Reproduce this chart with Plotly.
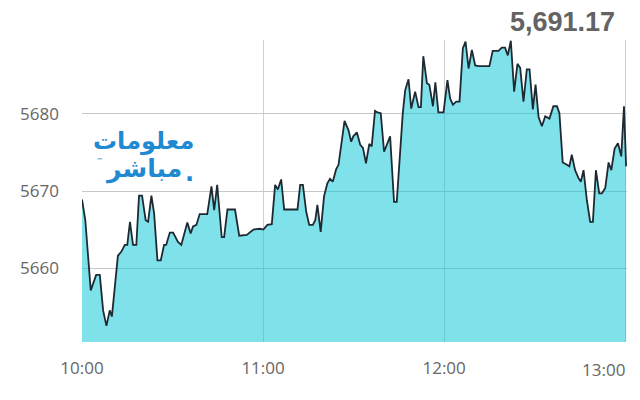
import plotly.graph_objects as go

# minutes after 10:00
minutes = [0, 1.1, 2.9, 4.7, 5.9, 7.0, 8.1, 9.2, 9.9, 11.9, 13.0, 14.2, 15.0, 15.9, 16.9, 18.0,
           18.9, 19.9, 21.1, 21.9, 23.0, 23.9, 25.0, 26.1, 27.2, 27.9, 29.1, 30.2, 31.8, 32.9,
           34.9, 36.0, 36.8, 37.9, 39.0, 41.5, 42.9, 43.8, 44.8, 46.3, 47.1, 48.2, 50.7, 52.1,
           54.6, 56.8, 59.0, 60.1, 61.4, 62.9, 64.0, 64.9, 66.0, 67.0, 71.4, 72.3, 73.2, 74.3,
           75.3, 76.5, 77.3, 78.0, 79.1, 80.2, 81.3, 82.2, 83.1, 84.2, 85.0, 87.0, 88.3, 89.2,
           89.9, 91.1, 92.2, 93.1, 94.1, 95.2, 96.0, 97.1, 97.9, 99.0, 100.1, 102.1, 103.4, 104.3,
           106.3, 107.1, 108.2, 109.1, 110.4, 111.5, 112.3, 113.1, 114.3, 115.1, 116.3, 117.1,
           118.1, 119.8, 121.1, 122.0, 122.9, 124.0, 125.1, 126.2, 127.1, 128.1, 129.2, 130.3,
           131.4, 135.0, 136.1, 138.0, 139.1, 140.2, 141.1, 142.1, 143.2, 144.3, 145.2, 146.3,
           147.4, 148.3, 149.4, 150.3, 151.3, 152.4, 153.5, 154.9, 156.2, 157.4, 158.2, 159.3,
           160.7, 161.5, 162.3, 163.4, 164.5, 165.3, 166.2, 167.3, 168.4, 169.3, 170.3, 171.4,
           172.3, 173.4, 174.5, 175.4, 176.5, 177.6, 178.7, 179.6, 180.3]

values = [5668.9, 5666.2, 5657.1, 5659.1, 5659.1, 5654.5, 5652.5, 5654.5, 5653.7, 5661.6, 5662.1,
          5663.0, 5663.0, 5666.0, 5663.0, 5663.0, 5669.4, 5669.4, 5666.2, 5666.0, 5669.4, 5667.1,
          5661.0, 5661.0, 5663.0, 5663.0, 5664.6, 5664.6, 5663.4, 5663.0, 5665.9, 5664.5, 5665.4,
          5665.6, 5667.0, 5667.0, 5670.6, 5667.5, 5670.8, 5664.0, 5664.0, 5667.6, 5667.6, 5664.2,
          5664.3, 5665.0, 5665.1, 5665.0, 5665.6, 5665.7, 5670.8, 5670.2, 5671.5, 5667.6, 5667.6,
          5670.8, 5670.8, 5667.3, 5665.6, 5665.6, 5666.2, 5668.2, 5664.7, 5669.3, 5671.0, 5671.6,
          5671.2, 5672.8, 5673.4, 5679.1, 5677.9, 5676.4, 5677.1, 5677.6, 5676.0, 5675.6, 5673.6,
          5676.1, 5675.8, 5680.4, 5680.2, 5680.1, 5675.1, 5677.1, 5668.6, 5668.6, 5680.1, 5683.1,
          5684.5, 5680.7, 5682.9, 5680.9, 5680.9, 5687.5, 5684.0, 5683.8, 5681.0, 5684.1, 5680.2,
          5680.2, 5684.4, 5682.0, 5681.2, 5681.6, 5681.6, 5688.5, 5689.4, 5685.9, 5688.3, 5686.3,
          5686.2, 5686.2, 5688.2, 5688.2, 5688.6, 5688.6, 5687.6, 5689.5, 5682.9, 5686.5, 5686.0,
          5681.6, 5685.8, 5685.8, 5680.6, 5683.8, 5679.6, 5678.4, 5679.7, 5679.4, 5681.0, 5681.0,
          5680.1, 5673.7, 5673.4, 5673.2, 5674.7, 5672.7, 5671.7, 5671.2, 5672.7, 5668.8, 5666.0,
          5666.0, 5672.7, 5669.7, 5669.7, 5670.4, 5673.7, 5672.7, 5675.5, 5676.2, 5674.5, 5681.0,
          5673.2]

tick_minutes = [0, 60, 120, 180]
tick_labels = ["10:00", "11:00", "12:00", "13:00"]
y_ticks = [5660, 5670, 5680]
last_value = "5,691.17"
logo_line1 = "معلومات"
logo_line2 = "مباشر"

tick_font = dict(family="Open Sans, DejaVu Sans, sans-serif", size=17, color="#666666")
logo_font = dict(family="DejaVu Sans, sans-serif", size=24, color="#1f8ad2")
logo_font2 = dict(family="DejaVu Sans, sans-serif", size=25, color="#1f8ad2")

fig = go.Figure()
fig.add_trace(go.Scatter(
    x=minutes, y=values, mode="lines",
    line=dict(color="#1e2a33", width=1.8),
    fill="tozeroy", fillcolor="rgba(0,196,214,0.5)",
    hoverinfo="skip",
))

# the page body adds an 8px offset; margins compensate for it
fig.update_layout(
    width=640, height=400,
    margin=dict(l=74, r=21, t=32, b=66),
    paper_bgcolor="white", plot_bgcolor="white",
    showlegend=False,
    xaxis=dict(
        range=[0, 180.6], tickvals=tick_minutes,
        ticktext=tick_labels[:-1] + [""],
        showgrid=True, gridcolor="#d0d0d0", gridwidth=1,
        zeroline=False, showline=False, ticks="",
        tickfont=tick_font, ticklabelstandoff=14, automargin=False,
    ),
    yaxis=dict(
        range=[5650.4, 5689.6], tickvals=y_ticks,
        showgrid=True, gridcolor="#c8c8c8", gridwidth=1.2,
        zeroline=False, showline=False, ticks="",
        tickfont=tick_font, ticklabelstandoff=22, automargin=False,
    ),
    annotations=[
        dict(text=tick_labels[-1], xref="x", yref="paper", x=180.6, y=0,
             xanchor="right", yanchor="top", yshift=-14, showarrow=False, font=tick_font),
        dict(text="<b>" + last_value + "</b>", xref="paper", yref="paper",
             x=0.9817, y=1.0596, xanchor="right", yanchor="middle", showarrow=False,
             font=dict(family="Liberation Sans, Arial, sans-serif", size=27, color="#636363")),
        dict(text="<b>" + logo_line1 + "</b>", xref="paper", yref="paper",
             x=0.209, y=0.666, xanchor="right", yanchor="middle", showarrow=False,
             font=logo_font),
        dict(text="<b>" + logo_line2 + "</b>", xref="paper", yref="paper",
             x=0.188, y=0.572, xanchor="right", yanchor="middle", showarrow=False,
             font=logo_font2),
        dict(text="<b>.</b>", xref="paper", yref="paper",
             x=0.186, y=0.56, xanchor="left", yanchor="middle", showarrow=False,
             font=logo_font),
        dict(text="™", xref="paper", yref="paper",
             x=0.022, y=0.6, xanchor="left", yanchor="middle", showarrow=False,
             font=dict(family="DejaVu Sans, sans-serif", size=7, color="#1f8ad2")),
    ],
)

fig.write_html("out.html")
